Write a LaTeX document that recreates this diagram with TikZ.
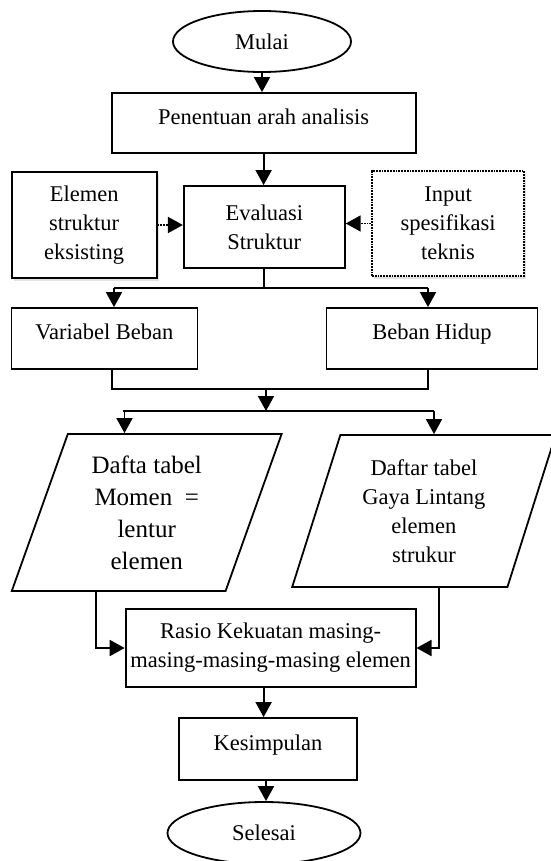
\documentclass[tikz,border=0pt]{standalone}
\usepackage{fontspec}
\setmainfont{Liberation Serif}
\usetikzlibrary{arrows.meta}
\usetikzlibrary{shapes.geometric}
\usetikzlibrary{shadows}

\begin{document}
\begin{tikzpicture}[x=1pt, y=-1pt, line width=1.8pt, >={Triangle[length=15pt,width=16pt]},
every node/.style={font=\fontsize{22.5}{29}\selectfont, align=center, inner sep=0pt},
box/.style={draw, rectangle},
oval/.style={draw, ellipse},
para/.style={draw, trapezium, trapezium left angle=71, trapezium right angle=109, trapezium stretches=true},
oneline/.style={text depth=13pt},
softshadow/.style={drop shadow={opacity=0.22, shadow xshift=2pt, shadow yshift=-3pt}},
dotarrow/.style={->, densely dotted}]
\useasboundingbox (0,0) rectangle (550,861);

% start
\node [oval, minimum width=178pt, minimum height=61pt] (mulai) at (262,41.5) {Mulai};
\node [box, oneline, minimum width=304pt, minimum height=60pt] (arah) at (263.6,123) {Penentuan arah analisis};

% evaluation and inputs
\node [box, minimum width=161pt, minimum height=82pt] (eval) at (264.3,227) {Evaluasi\\Struktur};
\node [box, fill=white, softshadow, minimum width=145pt, minimum height=106pt] (elemen) at (84.2,225) {Elemen\\struktur\\eksisting};
\node [box, densely dotted, fill=white, softshadow, minimum width=152pt, minimum height=105pt] (input) at (448,223.5) {Input\\spesifikasi\\teknis};

% loads
\node [box, oneline, minimum width=186pt, minimum height=61pt] (variabel) at (104.4,338.5) {Variabel Beban};
\node [box, oneline, minimum width=211pt, minimum height=61pt] (hidup) at (432,338.5) {Beban Hidup};

% tables
\node [para, minimum width=270pt, minimum height=157pt, font=\fontsize{25}{32}\selectfont] (momen) at (146.7,512.5) {Dafta tabel\\Momen\ \ =\\lentur\\elemen};
\node [para, minimum width=264pt, minimum height=152pt] (gaya) at (423.9,511) {Daftar tabel\\Gaya Lintang\\elemen\\strukur};

% result
\node [box, minimum width=290pt, minimum height=78pt] (rasio) at (270.6,648) {Rasio Kekuatan masing-\\masing-masing-masing elemen};
\node [box, oneline, minimum width=178pt, minimum height=62pt] (kes) at (268,749) {Kesimpulan};
\node [oval, minimum width=193pt, minimum height=62pt] (selesai) at (264,833) {Selesai};

% arrows
\draw[->] (mulai.south) -- (mulai.south |- arah.north);
\draw[->] (arah.south) -- (arah.south |- eval.north);
\draw[dotarrow] (elemen.east) -- (elemen.east -| eval.west);
\draw[dotarrow] (input.west) -- (input.west -| eval.east);

% split to loads
\coordinate (sL) at (114,288);
\coordinate (sR) at (428,288);
\draw (eval.south) -- (eval.south |- sL);
\draw (sL) -- (sR);
\draw[->] (sL) -- (sL |- variabel.north);
\draw[->] (sR) -- (sR |- hidup.north);

% join and split to tables
\coordinate (jL) at (112,389);
\coordinate (jR) at (428,389);
\coordinate (jM) at (266,389);
\coordinate (kM) at (266,411);
\coordinate (kL) at (123,411);
\coordinate (kR) at (434,411);
\draw (variabel.south -| jL) -- (jL) -- (jR) -- (hidup.south -| jR);
\draw[->] (jM) -- (kM);
\draw (kL) -- (kR);
\draw[->] ([xshift=1.5pt]kL) -- ([xshift=1.5pt]kL |- momen.north);
\draw[->] (kR) -- (kR |- gaya.north);

% into ratio
\draw[->] ([xshift=85.6pt]momen.bottom left corner) |- (rasio.west);
\draw[->] ([xshift=148pt]gaya.bottom left corner) |- (rasio.east);
\draw[->] ([xshift=-7pt]rasio.south) -- ([xshift=-7pt]rasio.south |- kes.north);
\draw[->] ([xshift=-2pt]kes.south) -- ([xshift=-2pt]kes.south |- selesai.north);
\end{tikzpicture}
\end{document}
